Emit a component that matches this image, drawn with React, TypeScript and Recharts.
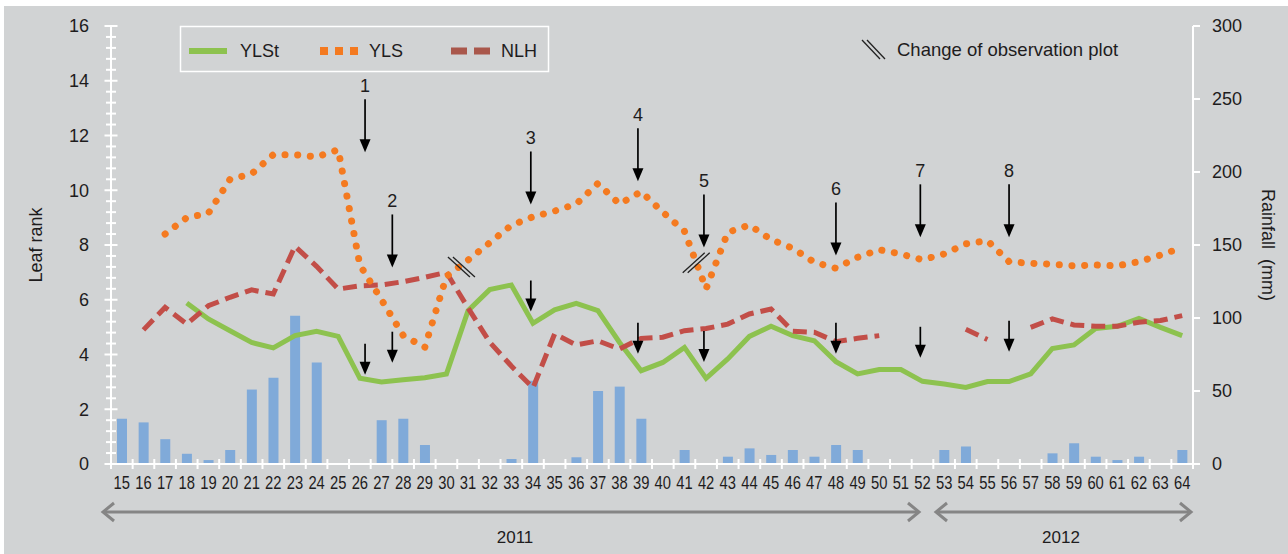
import React from 'react'
import { ComposedChart, Bar, Line, XAxis, YAxis, ReferenceDot } from 'recharts'

// week numbers along the x axis
const WEEKS = [
  15, 16, 17, 18, 19, 20, 21, 22, 23, 24,
  25, 26, 27, 28, 29, 30, 31, 32, 33, 34,
  35, 36, 37, 38, 39, 40, 41, 42, 43, 44,
  45, 46, 47, 48, 49, 50, 51, 52, 53, 54,
  55, 56, 57, 58, 59, 60, 61, 62, 63, 64,
]

// rainfall (mm), right axis
const RAINFALL = [
  31, 28.5, 17, 7, 2.7, 9.6, 51, 59, 101.6, 69.6,
  0, 0, 30, 31, 13, 0, 0, 0, 3.4, 57,
  0, 4.6, 50, 53, 31, 0, 9.6, 0, 5, 10.7,
  6.2, 9.6, 5, 13, 9.6, 0, 0, 0, 9.6, 12,
  0, 0, 0, 7.3, 14.2, 5, 2.7, 5, 0, 9.6,
]

// leaf rank series, left axis
const YLST = [
  null, null, null, 5.88, 5.3, 4.87, 4.44, 4.24, 4.69, 4.85,
  4.66, 3.13, 3.0, 3.08, 3.15, 3.29, 5.6, 6.37, 6.54, 5.14,
  5.63, 5.87, 5.6, 4.44, 3.41, 3.71, 4.26, 3.13, 3.84, 4.66,
  5.03, 4.69, 4.5, 3.74, 3.29, 3.45, 3.45, 3.02, 2.92, 2.8,
  3.01, 3.01, 3.29, 4.22, 4.35, 4.95, 5.03, 5.32, 4.99, 4.69,
]
const YLS = [
  null, null, 8.4, 9.0, 9.16, 10.4, 10.6, 11.3, 11.3, 11.22,
  11.48, 7.27, 6.0, 4.7, 4.26, 6.85, 7.45, 8.08, 8.72, 9.03,
  9.24, 9.5, 10.25, 9.5, 9.95, 9.2, 8.5, 6.4, 8.46, 8.73,
  8.2, 7.88, 7.37, 7.15, 7.55, 7.83, 7.67, 7.46, 7.67, 8.04,
  8.16, 7.39, 7.33, 7.3, 7.24, 7.27, 7.24, 7.39, 7.63, 7.91,
]
const NLH = [
  null, 4.9, 5.72, 5.11, 5.78, 6.09, 6.36, 6.21, 7.95, 7.22,
  6.39, 6.51, 6.54, 6.66, 6.82, 7.0, 5.7, 4.45, 3.58, 2.78,
  4.75, 4.35, 4.5, 4.2, 4.59, 4.63, 4.87, 4.95, 5.11, 5.48,
  5.66, 4.85, 4.81, 4.47, 4.59, 4.69, null, null, null, 4.92,
  4.55, null, 4.99, 5.3, 5.08, 5.03, 5.03, 5.18, 5.24, 5.42,
]

const LEFT_TICKS = [0, 2, 4, 6, 8, 10, 12, 14, 16]
const LEFT_MINOR_STEP = 0.4
const RIGHT_TICKS = [0, 50, 100, 150, 200, 250, 300]

// numbered arrows: week, shift within the band, tip of upper arrow, tip of lower arrow (leaf rank)
const ARROW_LABELS = ['1', '2', '3', '4', '5', '6', '7', '8']
const ARROW_WEEKS = [26, 27, 34, 39, 42, 48, 52, 56]
const ARROW_SHIFT = [0.24, 0.5, -0.1, -0.15, -0.1, 0, -0.1, 0]
const ARROW_TOP_TIP = [11.39, 7.18, 9.48, 10.33, 7.91, 7.62, 8.28, 8.28]
const ARROW_LOW_TIP = [3.26, 3.7, 5.57, 4.03, 3.73, 4.03, 3.88, 4.1]

// "change of observation plot" marks
const CHANGE_WEEKS = [30, 41]
const CHANGE_SHIFT = [0.67, 0.52]
const CHANGE_LEVEL = [7.2, 7.35]
const CHANGE_DIR = ['\\', '/']

const W = 1288
const H = 554
const PLOT_L = 111
const PLOT_R = 1193
const PLOT_T = 26
const PLOT_B = 464
const BAND = (PLOT_R - PLOT_L) / WEEKS.length

const FONT = '"Liberation Sans", Arial, sans-serif'
const TEXT = '#1e1c1d'
const GREEN = '#8dc24f'
const ORANGE = '#f47a20'
const RED = '#c24e48'
const BLUE = '#80aad9'

const LEFT_ALL = Array.from({ length: 16 / LEFT_MINOR_STEP + 1 }, (_, i) => +(i * LEFT_MINOR_STEP).toFixed(1))

const data = WEEKS.map((w, i) => ({
  week: String(w),
  rain: RAINFALL[i],
  ylst: YLST[i],
  yls: YLS[i],
  nlh: NLH[i],
}))

const LeftTick = (props: any) => {
  const { x, y, payload } = props
  const major = LEFT_TICKS.includes(payload.value)
  const half = major ? 6.5 : 5
  return (
    <g>
      <line x1={x - half} x2={x + half} y1={y} y2={y} stroke="#fff" strokeWidth={2} />
      {major && (
        <text x={x - 22} y={y} dy="0.36em" textAnchor="end" fontSize={18} fontFamily={FONT} fill={TEXT}>
          {payload.value}
        </text>
      )}
    </g>
  )
}

const RightTick = (props: any) => {
  const { x, y, payload } = props
  return (
    <g>
      <line x1={x} x2={x + 7} y1={y} y2={y} stroke="#fff" strokeWidth={2} />
      <text x={x + 19} y={y} dy="0.36em" textAnchor="start" fontSize={18} fontFamily={FONT} fill={TEXT}>
        {payload.value}
      </text>
    </g>
  )
}

const BottomTick = (props: any) => {
  const { x, y, payload, index } = props
  const left = x - BAND / 2
  return (
    <g>
      <line x1={left} x2={left} y1={y - 5} y2={y + 5} stroke="#fff" strokeWidth={2} />
      {index === WEEKS.length - 1 && (
        <line x1={x + BAND / 2} x2={x + BAND / 2} y1={y - 5} y2={y + 5} stroke="#fff" strokeWidth={2} />
      )}
      <text
        transform={`translate(${x},${y + 19}) scale(0.82,1)`}
        dy="0.36em"
        textAnchor="middle"
        fontSize={18}
        fontFamily={FONT}
        fill={TEXT}
      >
        {payload.value}
      </text>
    </g>
  )
}

const makeArrow = (len: number, shift: number, label?: string) => (p: any) => {
  const x = p.cx + shift * BAND
  const tip = p.cy
  return (
    <g>
      <line x1={x} x2={x} y1={tip - len} y2={tip - 10} stroke="#000" strokeWidth={1.7} />
      <polygon points={`${x - 5.5},${tip - 13} ${x + 5.5},${tip - 13} ${x},${tip}`} fill="#000" />
      {label && (
        <text x={x} y={tip - len - 14} dy="0.36em" textAnchor="middle" fontSize={18} fontFamily={FONT} fill={TEXT}>
          {label}
        </text>
      )}
    </g>
  )
}

const makeSlash = (shift: number, dir: string) => (p: any) => {
  const cx = p.cx + shift * BAND
  const cy = p.cy
  const s = dir === '/' ? -1 : 1
  return (
    <g stroke="#222" strokeWidth={1.3}>
      <line x1={cx - 13} y1={cy - 10 * s} x2={cx + 9} y2={cy + 10 * s} />
      <line x1={cx - 8} y1={cy - 10 * s} x2={cx + 14} y2={cy + 10 * s} />
    </g>
  )
}

function Overlay() {
  return (
    <svg width={W} height={H} style={{ position: 'absolute', left: 0, top: 0, pointerEvents: 'none' }}>
      {/* series legend */}
      <rect x={180.5} y={26.5} width={368} height={45} fill="none" stroke="#fff" strokeWidth={1.5} />
      <line x1={189} x2={227} y1={51} y2={51} stroke={GREEN} strokeWidth={6} />
      <text x={240} y={51} dy="0.36em" fontSize={18} fontFamily={FONT} fill={TEXT}>YLSt</text>
      {[320, 335, 350].map((x) => (
        <rect key={x} x={x} y={47} width={8} height={8} fill={ORANGE} />
      ))}
      <text x={369} y={51} dy="0.36em" fontSize={18} fontFamily={FONT} fill={TEXT}>YLS</text>
      {[451, 474].map((x) => (
        <rect key={x} x={x} y={47.5} width={16} height={7} fill="#a9574b" />
      ))}
      <text x={501} y={51} dy="0.36em" fontSize={18} fontFamily={FONT} fill={TEXT}>NLH</text>

      {/* change of observation plot */}
      <g stroke="#222" strokeWidth={1.3}>
        <line x1={862} y1={40} x2={880} y2={59} />
        <line x1={867} y1={40} x2={885} y2={59} />
      </g>
      <text x={897} y={49} dy="0.36em" fontSize={18.5} fontFamily={FONT} fill={TEXT}>Change of observation plot</text>

      {/* axis titles */}
      <text transform="translate(36,245) rotate(-90)" dy="0.36em" textAnchor="middle" fontSize={18} fontFamily={FONT} fill={TEXT}>
        Leaf rank
      </text>
      <text
        transform="translate(1268,245) rotate(90)"
        dy="0.36em"
        textAnchor="middle"
        fontSize={18}
        fontFamily={FONT}
        fill={TEXT}
        style={{ whiteSpace: 'pre' }}
      >
        {'Rainfall  (mm)'}
      </text>

      {/* year spans */}
      <g stroke="#858585" strokeWidth={3} fill="none">
        <line x1={103} x2={919} y1={512} y2={512} />
        <polyline points="114,503 103,512 114,521" />
        <polyline points="908,503 919,512 908,521" />
        <line x1={936} x2={1191} y1={512} y2={512} />
        <polyline points="947,503 936,512 947,521" />
        <polyline points="1180,503 1191,512 1180,521" />
      </g>
      <text x={515} y={537} dy="0.36em" textAnchor="middle" fontSize={17} fontFamily={FONT} fill={TEXT}>2011</text>
      <text x={1061} y={537} dy="0.36em" textAnchor="middle" fontSize={17} fontFamily={FONT} fill={TEXT}>2012</text>
    </svg>
  )
}

export default function App() {
  return (
    <div style={{ position: 'absolute', left: 0, top: 0, width: W, height: H, background: '#fff', fontFamily: FONT }}>
      <div style={{ position: 'absolute', left: 4, top: 6, right: 0, bottom: 0, background: '#d1d3d4' }} />
      <div style={{ position: 'absolute', left: 0, top: 0 }}>
        <ComposedChart
          width={W}
          height={H}
          data={data}
          margin={{ top: PLOT_T, left: PLOT_L - 60, right: W - PLOT_R - 60, bottom: H - PLOT_B - 40 }}
        >
          <XAxis
            dataKey="week"
            height={40}
            interval={0}
            tickSize={0}
            tickMargin={0}
            tickLine={false}
            axisLine={{ stroke: '#fff', strokeWidth: 2 }}
            tick={<BottomTick />}
          />
          <YAxis
            yAxisId="left"
            width={60}
            domain={[0, 16]}
            ticks={LEFT_ALL}
            interval={0}
            tickSize={0}
            tickMargin={0}
            tickLine={false}
            axisLine={{ stroke: '#fff', strokeWidth: 2 }}
            tick={<LeftTick />}
          />
          <YAxis
            yAxisId="right"
            orientation="right"
            width={60}
            domain={[0, 300]}
            ticks={RIGHT_TICKS}
            interval={0}
            tickSize={0}
            tickMargin={0}
            tickLine={false}
            axisLine={{ stroke: '#fff', strokeWidth: 2 }}
            tick={<RightTick />}
          />
          <Bar yAxisId="right" dataKey="rain" fill={BLUE} barSize={10} isAnimationActive={false} />
          <Line
            yAxisId="left"
            dataKey="ylst"
            stroke={GREEN}
            strokeWidth={5}
            dot={false}
            activeDot={false}
            isAnimationActive={false}
          />
          <Line
            yAxisId="left"
            dataKey="nlh"
            stroke={RED}
            strokeWidth={5}
            strokeDasharray="14 7"
            dot={false}
            activeDot={false}
            isAnimationActive={false}
          />
          <Line
            yAxisId="left"
            dataKey="yls"
            stroke={ORANGE}
            strokeWidth={7}
            strokeLinecap="round"
            strokeDasharray="0.1 12.6"
            dot={false}
            activeDot={false}
            isAnimationActive={false}
          />
          {ARROW_WEEKS.map((w, i) => (
            <ReferenceDot
              key={'top' + i}
              yAxisId="left"
              x={String(w)}
              y={ARROW_TOP_TIP[i]}
              shape={makeArrow(53, ARROW_SHIFT[i], ARROW_LABELS[i])}
            />
          ))}
          {ARROW_WEEKS.map((w, i) => (
            <ReferenceDot
              key={'low' + i}
              yAxisId="left"
              x={String(w)}
              y={ARROW_LOW_TIP[i]}
              shape={makeArrow(31, ARROW_SHIFT[i])}
            />
          ))}
          {CHANGE_WEEKS.map((w, i) => (
            <ReferenceDot
              key={'chg' + i}
              yAxisId="left"
              x={String(w)}
              y={CHANGE_LEVEL[i]}
              shape={makeSlash(CHANGE_SHIFT[i], CHANGE_DIR[i])}
            />
          ))}
        </ComposedChart>
      </div>
      <Overlay />
    </div>
  )
}
